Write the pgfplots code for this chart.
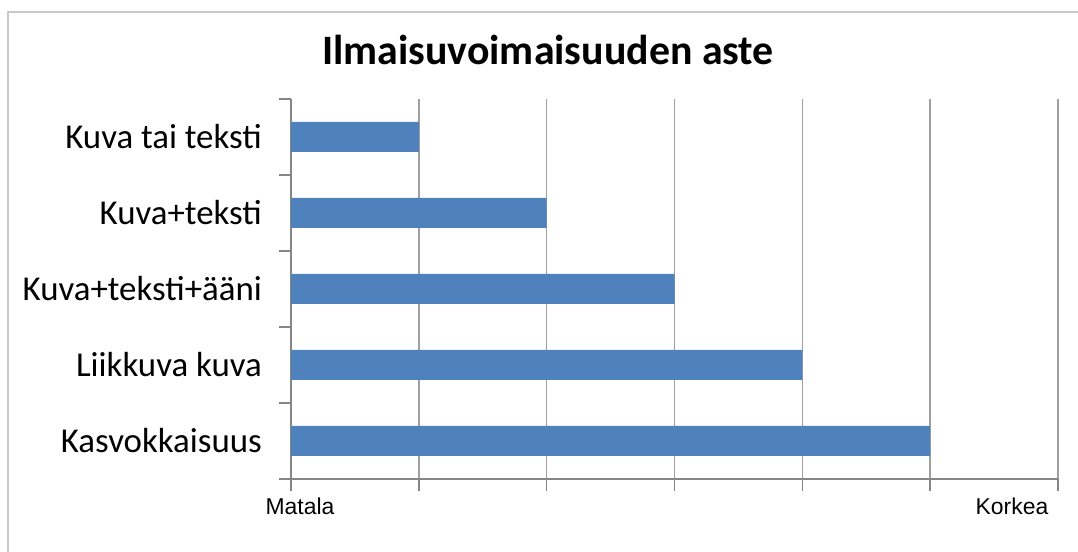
\documentclass[border=0pt]{standalone}
\usepackage{pgfplots}
\pgfplotsset{compat=1.18}
\usepackage{fontspec}
\setmainfont{Carlito}
\newfontfamily\arialfont{Liberation Sans}
\definecolor{barblue}{HTML}{4F81BD}
\definecolor{gridgray}{HTML}{A0A0A0}
\definecolor{axisgray}{HTML}{868686}
\definecolor{framegray}{HTML}{C8C8C8}
\pgfplotstableread{
val pos
1 4
2 3
3 2
4 1
5 0
}\datatable
\begin{document}
\begin{tikzpicture}[x=1bp,y=1bp]
\path[use as bounding box] (0,0) rectangle (1078,552);
\draw[framegray, line width=2bp] (8,0) -- (8,540) -- (1078,540);
\node[font=\fontsize{42}{46}\selectfont\bfseries, anchor=base] at (548,487) {Ilmaisuvoimaisuuden aste};
\begin{axis}[
  at={(291bp,73bp)}, anchor=south west,
  width=767bp, height=380bp, scale only axis,
  xmin=0, xmax=6, ymin=-0.5, ymax=4.5,
  axis x line*=bottom, axis y line*=left,
  axis line style={axisgray, line width=1.5bp, -},
  xtick={0,1,2,3,4,5,6}, xticklabels={},
  xmajorgrids, major grid style={gridgray, line width=1.6bp},
  tick align=outside,
  major tick length=12bp,
  x tick style={axisgray, line width=1.5bp},
  ytick={0,1,2,3,4},
  yticklabels={Kasvokkaisuus, Liikkuva kuva, Kuva+teksti+ääni, Kuva+teksti, Kuva tai teksti},
  y tick style={draw=none},
  yticklabel style={font=\fontsize{35}{40}\selectfont, anchor=east, inner sep=0pt, xshift=-17bp},
  extra y ticks={-0.5,0.5,1.5,2.5,3.5,4.5},
  extra y tick labels={},
  extra y tick style={y tick style={draw=axisgray, line width=1.5bp}, major grid style={draw=none}},
  xbar, bar width=30bp, bar shift=0pt,
  clip=false,
]
\addplot[fill=barblue, draw=none] table[x=val, y=pos] {\datatable};
\end{axis}
\node[font=\arialfont\fontsize{23}{27}\selectfont, anchor=base] at (300,37) {Matala};
\node[font=\arialfont\fontsize{23}{27}\selectfont, anchor=base] at (1012,37) {Korkea};
\end{tikzpicture}
\end{document}
